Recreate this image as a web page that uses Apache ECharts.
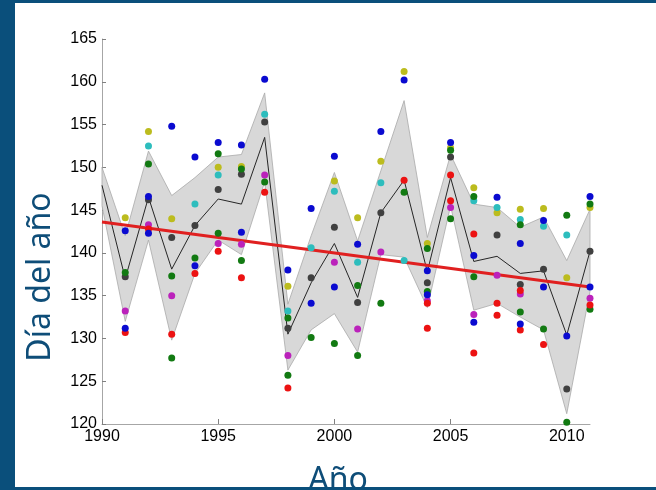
<!DOCTYPE html>
<html>
<head>
<meta charset="utf-8">
<script src="https://cdn.jsdelivr.net/npm/echarts@6/dist/echarts.min.js"></script>
<style>
html,body{margin:0;padding:0;background:#0a4f7b;}
#c{width:656px;height:490px;}
</style>
</head>
<body>
<div id="c"></div>
<script>
// ---- data ----
const dotYears = [1991,1992,1993,1994,1995,1996,1997,1998,1999,2000,2001,2002,2003,2004,2005,2006,2007,2008,2009,2010,2011];
const blueA   = [142.6,146.6,154.8,151.2,152.9,152.6,160.3,138.0,145.2,151.3,141.0,154.2,160.2,137.9,152.9,139.7,146.5,141.1,143.8,130.3,146.6];
const blueB   = [131.2,142.3,null,138.5,null,142.4,null,null,134.1,136.0,null,null,null,135.1,null,131.9,null,131.7,136.0,null,136.0];
const greenA  = [137.7,150.4,137.3,139.4,151.6,149.8,148.3,132.4,130.1,129.4,136.2,134.1,147.1,140.5,152.0,146.6,null,143.3,131.1,144.4,145.7];
const greenB  = [null,null,127.7,null,142.3,139.1,null,125.7,null,null,128.0,null,null,135.5,144.0,137.2,null,133.1,null,120.2,133.4];
const redA    = [130.7,142.8,130.5,137.6,140.2,137.1,147.1,124.2,null,null,null,null,148.5,134.1,149.1,142.2,134.1,135.6,129.3,null,133.9];
const redB    = [null,null,null,null,null,null,null,null,null,null,null,null,null,131.2,146.1,128.3,132.7,131.0,null,null,null];
const cyanV   = [null,152.5,null,145.7,149.1,null,156.2,133.2,140.6,147.2,138.9,148.2,139.1,null,null,146.1,145.3,143.9,143.1,142.1,null];
const magentaV= [133.2,143.3,135.0,null,141.1,141.0,149.1,128.0,null,138.9,131.1,140.1,null,134.4,145.3,132.8,137.4,135.2,null,null,134.7];
const yellowV = [144.1,154.2,144.0,null,150.0,150.1,null,136.1,null,148.4,144.1,150.7,161.2,141.1,152.3,147.6,144.7,145.1,145.2,137.1,145.3];
const grayV   = [137.2,146.2,141.8,143.2,147.4,149.2,155.3,131.2,137.1,143.0,134.2,144.7,null,136.5,151.2,null,142.1,136.3,138.1,124.1,140.2];

const bandYears = [1990,1991,1992,1993,1994,1995,1996,1997,1998,1999,2000,2001,2002,2003,2004,2005,2006,2007,2008,2009,2010,2011];
const upperV = [150.0,142.0,151.9,146.7,148.8,151.2,151.5,158.7,134.0,142.0,149.4,141.4,149.6,157.8,141.8,151.5,145.7,145.3,143.0,144.2,139.1,145.1];
const lowerV = [145.5,132.0,141.5,129.8,137.6,141.5,139.8,148.3,126.3,131.0,132.9,128.4,139.8,139.5,133.6,145.5,133.3,134.1,132.5,131.0,121.2,135.5];
const meanV  = [147.9,137.0,146.5,138.1,143.2,146.3,145.7,153.5,130.5,136.5,141.1,134.8,144.7,148.5,137.8,148.8,139.0,139.6,137.6,137.9,130.4,140.2];

const trendYears = [1990, 2011];
const trendV = [143.6, 136.0];

const yTicks = {min:120, max:165, step:5};
const xTicks = {min:1990, max:2011, step:5};

// ---- chart ----
const chart = echarts.init(document.getElementById('c'), null, {renderer:'canvas'});
const pairs = (xs, ys) => xs.map((x,i)=> ys[i]==null ? null : [x, ys[i]]).filter(p=>p);

function dots(name, vals, color){
  return {name, type:'scatter', data:pairs(dotYears, vals), symbolSize:7,
    itemStyle:{color, opacity:1}, z:5, silent:true};
}

const labelFont = {fontFamily:'Liberation Sans, Arial, sans-serif', fontSize:16, color:'#000'};

chart.setOption({
  animation:false,
  backgroundColor:'transparent',
  graphic:[
    {type:'rect', shape:{x:15,y:3,width:641,height:484}, style:{fill:'#ffffff'}, z:-10},
    {type:'text', x:41, y:277, rotation:Math.PI/2,
      style:{text:'Día del año', font:'32px "Noto Sans", sans-serif', fill:'#0e4d78', align:'center', verticalAlign:'middle'}, z:10},
    {type:'text', x:338, y:481,
      style:{text:'Año', font:'32px "Noto Sans", sans-serif', fill:'#0e4d78', align:'center', verticalAlign:'middle'}, z:10},
    {type:'rect', shape:{x:0,y:487,width:656,height:3}, style:{fill:'#0a4f7b'}, z:20}
  ],
  grid:{left:102, right:66, top:39, bottom:66, containLabel:false},
  xAxis:{type:'value', min:xTicks.min, max:xTicks.max, interval:xTicks.step,
    axisLine:{show:true, lineStyle:{color:'#a6a6a6', width:1}},
    axisTick:{show:true, inside:true, length:5, lineStyle:{color:'#808080'}},
    axisLabel:Object.assign({margin:5, formatter:v=> (v%5===0? String(v):''), showMaxLabel:false}, labelFont),
    splitLine:{show:false}},
  yAxis:{type:'value', min:yTicks.min, max:yTicks.max, interval:yTicks.step,
    axisLine:{show:true, lineStyle:{color:'#a6a6a6', width:1}},
    axisTick:{show:true, inside:true, length:4, lineStyle:{color:'#808080'}},
    axisLabel:Object.assign({margin:5}, labelFont),
    splitLine:{show:false}},
  series:[
    {type:'custom', name:'band', silent:true, z:1,
      data: bandYears.map((y,i)=>[y, lowerV[i], upperV[i]]),
      renderItem:function(params, api){
        if(params.dataIndex!==0) return null;
        const pts=[];
        for(let i=0;i<bandYears.length;i++) pts.push(api.coord([bandYears[i], upperV[i]]));
        for(let i=bandYears.length-1;i>=0;i--) pts.push(api.coord([bandYears[i], lowerV[i]]));
        return {type:'polygon', shape:{points:pts}, style:{fill:'#d8d8d8', stroke:'#a9a9a9', lineWidth:0.8}};
      }},
    {type:'line', name:'mean', data:pairs(bandYears, meanV), symbol:'none',
      lineStyle:{color:'#262626', width:1}, z:2, silent:true},
    {type:'line', name:'trend', data:pairs(trendYears, trendV), symbol:'none',
      lineStyle:{color:'#e02020', width:3}, z:3, silent:true},
    dots('gray', grayV, '#404040'),
    dots('yellow', yellowV, '#bcbc1e'),
    dots('cyan', cyanV, '#2dbdbd'),
    dots('magenta', magentaV, '#bb22bb'),
    dots('greenA', greenA, '#127a12'),
    dots('greenB', greenB, '#127a12'),
    dots('redA', redA, '#ec1212'),
    dots('redB', redB, '#ec1212'),
    dots('blueA', blueA, '#0a0ad0'),
    dots('blueB', blueB, '#0a0ad0')
  ]
});
</script>
</body>
</html>
